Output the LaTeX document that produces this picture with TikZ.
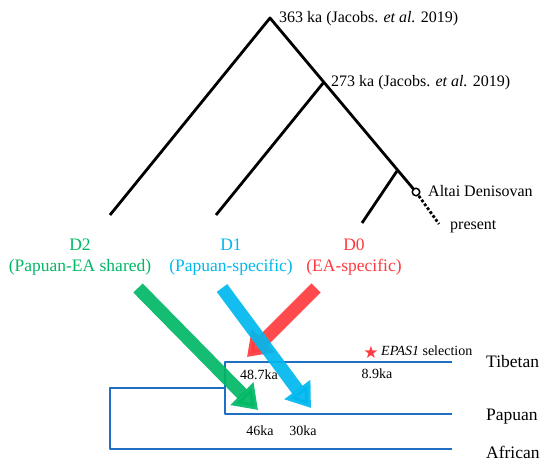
\documentclass[tikz,border=0pt]{standalone}
\usepackage{fontspec}
\setmainfont{Liberation Serif}
\newfontfamily\symfont{DejaVu Sans}
\usetikzlibrary{arrows.meta}
\definecolor{cgreen}{HTML}{00B865}
\definecolor{ccyan}{HTML}{00B8EE}
\definecolor{cred}{HTML}{FF3B3F}
\definecolor{cblue}{HTML}{1F6FC5}
\begin{document}
\begin{tikzpicture}[x=1pt,y=-1pt,
  tree/.style={line width=2.8pt,black},
  blueline/.style={line width=2.8pt,cblue},
  lbl/.style={font=\fontsize{16}{18}\selectfont,inner sep=0pt},
  ka/.style={font=\fontsize{14}{16}\selectfont,inner sep=0pt},
  pop/.style={font=\fontsize{17.5}{19}\selectfont,inner sep=0pt,anchor=west},
  dlab/.style={font=\fontsize{17.5}{21}\selectfont,align=center,inner sep=0pt},
  bigarrow/.style={line width=13pt,opacity=0.92,-{Triangle[width=31pt,length=23pt]}}]
\useasboundingbox[fill=white] (0,0) rectangle (556,470);
% tree
\coordinate (r1) at (270,18);
\coordinate (r2) at (324,82);
\coordinate (r3) at (397,171);
\coordinate (l2) at (110,215);
\coordinate (l1) at (216,215);
\coordinate (l0) at (362,223);
\coordinate (ad) at (416,192);
\coordinate (pr) at (439,224);
\draw[tree,line join=round] (l2) -- (r1) -- (ad);
\draw[tree] (l1) -- (r2);
\draw[tree] (l0) -- (r3);
\draw[line width=2.8pt,dotted] (ad) -- (pr);
\node[circle,draw=black,line width=1.5pt,fill=white,inner sep=0pt,minimum size=7.5pt] (adc) at (ad) {};
\node[lbl,anchor=west] (t363) at (279,19) {363 ka (Jacobs. \textit{et al.} 2019)};
\node[lbl,anchor=west] (t273) at (331,83) {273 ka (Jacobs. \textit{et al.} 2019)};
\node[lbl,anchor=west] (talt) at (428,191) {Altai Denisovan};
\node[lbl,anchor=west] (tpre) at (450,227) {present};
% D labels
\node[dlab,text=cgreen] (d2) at (80,257) {D2\\(Papuan-EA shared)};
\node[dlab,text=ccyan] (d1) at (231,257) {D1\\(Papuan-specific)};
\node[dlab,text=cred] (d0) at (354,257) {D0\\(EA-specific)};
% blue population tree
\coordinate (tibL) at (225,362);
\coordinate (tibR) at (452,362);
\coordinate (papL) at (225,414);
\coordinate (papR) at (452,414);
\coordinate (afrL) at (110,449);
\coordinate (afrR) at (452,449);
\coordinate (jn) at (225,388);
\coordinate (root) at (110,388);
\draw[blueline,line join=round] (tibR) -- (tibL) -- (papL) -- (papR);
\draw[blueline,line join=round] (jn) -- (root) -- (afrL) -- (afrR);
\node[pop] (tib) at (486,362) {Tibetan};
\node[pop] (pap) at (486,417) {Papuan};
\node[pop] (afr) at (486,452) {African};
\node[ka] (k487) at (259,375) {48.7ka};
\node[ka] (k89) at (377,374) {8.9ka};
\node[ka] (k46) at (260,431) {46ka};
\node[ka] (k30) at (303,431) {30ka};
\node[text=cred,font=\symfont\fontsize{17}{17}\selectfont,inner sep=0pt] (star) at (371,352) {★};
\node[ka,anchor=west] (epas) at (381,351) {\textit{EPAS1} selection};
% arrows
\coordinate (g0) at (138,288);
\coordinate (g1) at (258,410);
\coordinate (c0) at (222,288);
\coordinate (c1) at (311,408);
\coordinate (e0) at (316,288);
\coordinate (e1) at (247,357);
\draw[bigarrow,cred] (e0) -- (e1);
\draw[bigarrow,cgreen] (g0) -- (g1);
\draw[bigarrow,ccyan] (c0) -- (c1);
\end{tikzpicture}
\end{document}
